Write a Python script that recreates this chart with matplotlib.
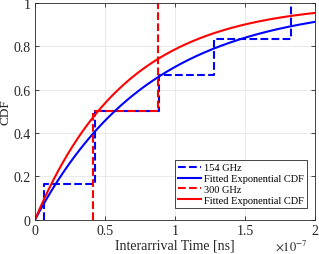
import numpy as np
import matplotlib
matplotlib.use("Agg")
import matplotlib.pyplot as plt
from matplotlib.ticker import FuncFormatter

# interarrival samples [s]
t154 = np.array([0.066, 0.43, 0.43, 0.883, 1.28, 1.826]) * 1e-7
t300 = np.array([0.417, 0.88]) * 1e-7
xticks = [0, 0.5e-7, 1e-7, 1.5e-7, 2e-7]
yticks = [0, 0.2, 0.4, 0.6, 0.8, 1]

plt.rcParams['font.family'] = ['Liberation Serif', 'DejaVu Serif']
plt.rcParams['mathtext.fontset'] = 'stix'

def ecdf(t):
    # empirical cdf like matlab's ecdf: starts at first sample with 0
    s = np.sort(t)
    x = np.concatenate([[s[0]], s])
    y = np.concatenate([[0], np.arange(1, len(s) + 1) / len(s)])
    return x, y

fig = plt.figure(figsize=(3.19, 2.55), dpi=100)
ax = fig.add_axes([35/319, 1 - 220.7/255, 280/319, 216.7/255])

xx = np.linspace(0, 2e-7, 300)
x1, y1 = ecdf(t154)
x2, y2 = ecdf(t300)
ax.step(x1, y1, where='post', color='b', ls='--', lw=1.5, label='154 GHz')
ax.plot(xx, 1 - np.exp(-xx / t154.mean()), color='b', lw=1.5, label='Fitted Exponential CDF')
ax.step(x2, y2, where='post', color='r', ls='--', lw=1.5, label='300 GHz')
ax.plot(xx, 1 - np.exp(-xx / t300.mean()), color='r', lw=1.5, label='Fitted Exponential CDF')

ax.set_xlim(0, 2e-7)
ax.set_ylim(0, 1)
ax.set_xticks(xticks)
ax.set_yticks(yticks)
ax.xaxis.set_major_formatter(FuncFormatter(lambda v, p: '%g' % round(v * 1e7, 2)))
ax.yaxis.set_major_formatter(FuncFormatter(lambda v, p: '%g' % v))
ax.grid(True, color='#e6e6e6', lw=0.6)
ax.tick_params(direction='in', length=3, top=True, right=True, labelsize=10,
               colors='#262626', width=0.6, pad=3)
for s in ax.spines.values():
    s.set_color('#262626')
    s.set_linewidth(0.6)
ax.set_xlabel('Interarrival Time [ns]', fontsize=10, color='#262626')
ax.xaxis.set_label_coords(0.5, -0.085)
ax.set_ylabel('CDF', fontsize=9.5, color='#262626')
ax.yaxis.set_label_coords(-0.083, 0.5)
fig.text(0.965, 0.005, r'$\times10^{-7}$', fontsize=9, color='#262626', ha='right', va='bottom')

leg = ax.legend(loc='lower right', fontsize=7.5, handlelength=2.2, handletextpad=0.3,
                labelspacing=0.15, borderpad=0.3, fancybox=False, framealpha=1,
                edgecolor='#262626', bbox_to_anchor=(0.99, 0.03))
leg.get_frame().set_linewidth(0.6)

fig.savefig('out.png', dpi=100)
